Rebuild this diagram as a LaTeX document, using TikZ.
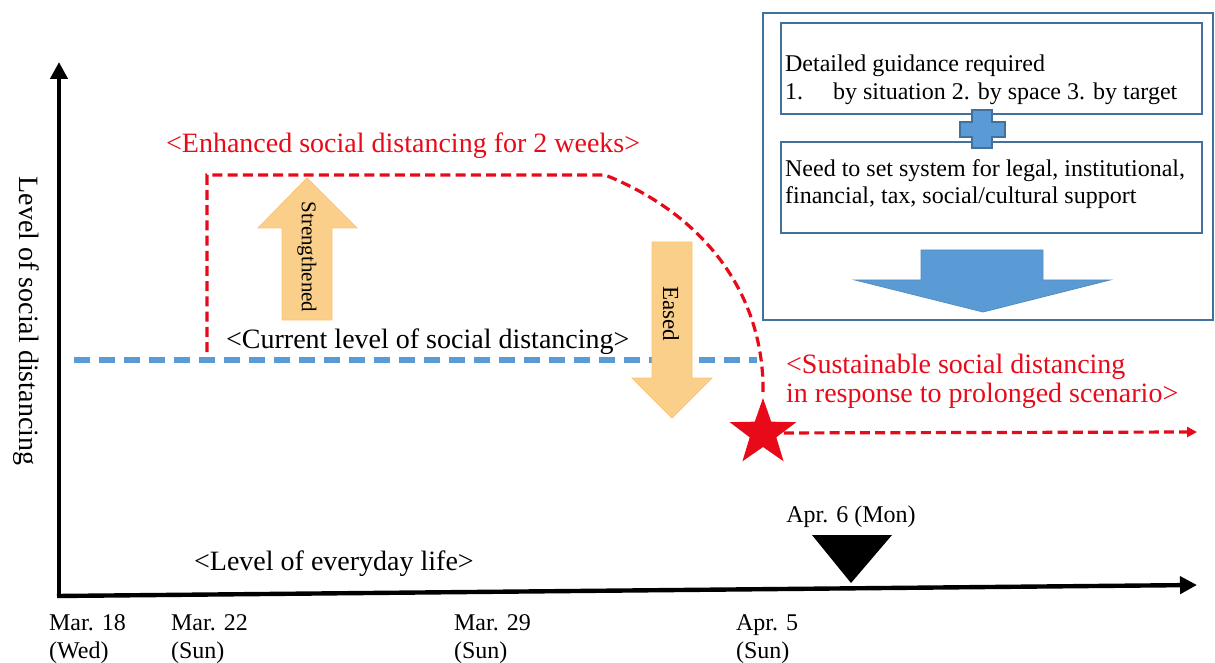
\documentclass[tikz,border=0pt]{standalone}
\usepackage{fontspec}
\setmainfont{Liberation Serif}
\usepackage{tikz}
\usetikzlibrary{arrows.meta,shapes.geometric,positioning,calc}

\definecolor{distblue}{RGB}{91,155,213}
\definecolor{boxblue}{RGB}{65,113,156}
\definecolor{arrorange}{RGB}{250,207,138}
\definecolor{planred}{RGB}{232,10,25}

\tikzset{
  bigtxt/.style={font=\fontsize{14}{16}\selectfont, inner sep=0},
  smalltxt/.style={font=\fontsize{12}{14}\selectfont, inner sep=0},
  guidebox/.style={draw=boxblue, line width=1pt, minimum width=210.5pt, minimum height=45.5pt, inner sep=0},
  blockarrow/.style={fill=arrorange, draw=arrorange!85!orange, line width=.4pt},
  reddash/.style={draw=planred, line width=1.6pt, dash pattern=on 5pt off 2.6pt},
}

\begin{document}
\begin{tikzpicture}[x=0.5pt,y=-0.5pt,line width=.4mm]

      \useasboundingbox (0,0) rectangle (1215,663);

      % axes
      \coordinate (origin) at (59,596);
      \coordinate (ytop) at (59,62);
      \coordinate (xend) at (1197,585);
      \draw[line width=2.2pt,-{Triangle[length=8.5pt,width=8.5pt]}] (origin) -- (ytop);
      \draw[line width=2.2pt,-{Triangle[length=8.5pt,width=8.5pt]}] ($(origin)+(-2,0)$) -- (xend);
      \node[bigtxt, rotate=-90] (ylabel) at (26,321) {Level of social distancing};

      % current level
      \coordinate (curL) at (74,360);
      \coordinate (curR) at (757,360);
      \draw[distblue, line width=2.6pt, dash pattern=on 8pt off 4.5pt] (curL) -- (curR);
      \node[bigtxt, anchor=base west] (curtxt) at (225,348) {<Current level of social distancing>};

      % strengthened / eased
      \draw[blockarrow] (282,320) -- (282,228) -- (258,228) -- (307,178) -- (357,228)
            -- (332,228) -- (332,320) -- cycle;
      \node[font=\fontsize{10.5}{12}\selectfont, rotate=-90, inner sep=0] (strong) at (307,257) {Strengthened};
      \draw[blockarrow] (652,242) -- (692,242) -- (692,378) -- (712,378) -- (672,418)
            -- (632,378) -- (652,378) -- cycle;
      \node[font=\fontsize{11.5}{13}\selectfont, rotate=-90, inner sep=0] (eased) at (671,314) {Eased};

      % enhanced distancing for 2 weeks
      \node[bigtxt, text=planred, anchor=base west] (enhtxt) at (165,153) {<Enhanced social distancing for 2 weeks>};
      \node[star, star points=5, star point ratio=2.5, fill=planred, minimum size=35pt, inner sep=0] (star) at (763,433) {};
      \coordinate (enhStart) at (207,352);
      \coordinate (enhUp) at (207,175);
      \coordinate (enhTop) at (605,175);
      \draw[reddash] (enhStart) -- (enhUp) -- (enhTop) .. controls (705,215) and (765,295) .. (star.north);

      % sustainable distancing
      \coordinate (sustEnd) at (1197,432);
      \draw[reddash, -{Triangle[length=5pt,width=5pt]}] (star) -- (sustEnd);
      \node[bigtxt, text=planred, anchor=base west] (sust1) at (785,373) {<Sustainable social distancing};
      \node[bigtxt, text=planred, anchor=base west] (sust2) at (785,402) {in response to prolonged scenario>};

      % guidance box
      \draw[boxblue, line width=1pt] (763,13) rectangle (1213,320);
      \node[guidebox] (guide) at (991.5,68.5) {};
      \node[guidebox] (system) at (991.5,187.5) {};
      \node[smalltxt, anchor=base west] (guide1) at (784,72) {Detailed guidance required};
      \node[smalltxt, anchor=base west] (guide2) at (784,100) {\makebox[24pt][l]{1.}by situation 2. by space 3. by target};
      \node[smalltxt, anchor=base west] (system1) at (784,177) {Need to set system for legal, institutional,};
      \node[smalltxt, anchor=base west] (system2) at (784,204) {financial, tax, social/cultural support};
      \draw[fill=distblue, draw=boxblue, line width=.6pt] (972,110) -- (992,110) -- (992,122) -- (1005,122)
            -- (1005,137) -- (992,137) -- (992,148) -- (972,148) -- (972,137) -- (960,137)
            -- (960,122) -- (972,122) -- cycle;
      \draw[fill=distblue, draw=distblue!90!black, line width=.4pt] (921,250) -- (1043,250) -- (1043,280)
            -- (1110,280) -- (983,312) -- (855,280) -- (921,280) -- cycle;

      % apr 6 marker
      \node[smalltxt, anchor=base] (apr6) at (851,522) {Apr. 6 (Mon)};
      \fill (812,535) -- (892,535) -- (851,583) -- cycle;

      \node[bigtxt, anchor=base west] (everyday) at (193,570) {<Level of everyday life>};

      % dates
      \node[smalltxt, anchor=base west, align=left] (mar18) at (48,630) {Mar. 18};
      \node[smalltxt, anchor=base west] (wed) at (48,658) {(Wed)};
      \node[smalltxt, anchor=base west] (mar22) at (170,630) {Mar. 22};
      \node[smalltxt, anchor=base west] (sun22) at (170,658) {(Sun)};
      \node[smalltxt, anchor=base west] (mar29) at (453,630) {Mar. 29};
      \node[smalltxt, anchor=base west] (sun29) at (453,658) {(Sun)};
      \node[smalltxt, anchor=base west] (apr5) at (735,630) {Apr. 5};
      \node[smalltxt, anchor=base west] (sun5) at (735,658) {(Sun)};

    \end{tikzpicture}
\end{document}
